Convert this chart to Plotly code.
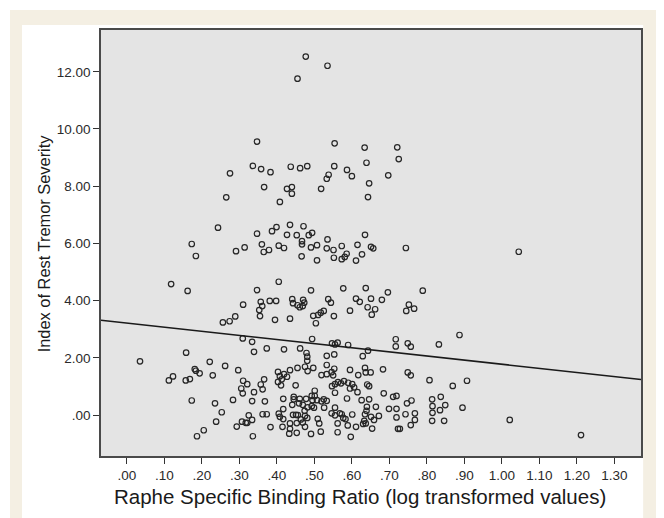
import plotly.graph_objects as go

# ---------------- data ----------------
x_tick_vals = [0.0, 0.1, 0.2, 0.3, 0.4, 0.5, 0.6, 0.7, 0.8, 0.9, 1.0, 1.1, 1.2, 1.3]
x_tick_text = [".00", ".10", ".20", ".30", ".40", ".50", ".60", ".70", ".80", ".90",
               "1.00", "1.10", "1.20", "1.30"]
y_tick_vals = [0, 2, 4, 6, 8, 10, 12]
y_tick_text = [".00", "2.00", "4.00", "6.00", "8.00", "10.00", "12.00"]

# fit line: y = intercept + slope * x
fit_intercept = 3.216
fit_slope = -1.44

# points with index > 7.8
high_x = [0.477, 0.535, 0.455, 0.347, 0.554, 0.634, 0.721, 0.725, 0.336, 0.358, 0.383, 0.437,
          0.462, 0.481, 0.553, 0.639, 0.538, 0.533, 0.587, 0.600, 0.697, 0.275, 0.366, 0.427,
          0.440, 0.518, 0.646]
high_y = [12.53, 12.21, 11.76, 9.56, 9.50, 9.35, 9.36, 8.95, 8.71, 8.60, 8.49, 8.68,
          8.63, 8.70, 8.70, 8.82, 8.40, 8.26, 8.57, 8.35, 8.38, 8.45, 7.97, 7.91,
          7.97, 7.91, 8.10]

# points with index between 4 and 7.8
mid_x = [0.265, 0.408, 0.440, 0.643, 0.243, 0.173, 0.184, 0.291, 0.314, 0.347, 0.360, 0.365,
         0.379, 0.387, 0.399, 0.427, 0.435, 0.453, 0.471, 0.485, 0.494, 0.405, 0.419, 0.467,
         0.467, 0.466, 0.491, 0.507, 0.507, 0.535, 0.533, 0.551, 0.552, 0.573, 0.573, 0.586,
         0.581, 0.615, 0.611, 0.627, 0.635, 0.651, 0.657, 0.744, 0.405, 0.162, 0.347, 0.491,
         0.577, 0.637, 0.696, 0.789, 0.441, 0.470, 0.537, 0.611, 0.651, 0.680, 0.118, 1.045]
mid_y = [7.61, 7.45, 7.74, 7.62, 6.55, 5.98, 5.56, 5.73, 5.86, 6.34, 5.97, 5.70,
         5.77, 6.43, 6.57, 6.30, 6.65, 6.29, 6.60, 6.29, 6.37, 5.92, 5.84, 6.08,
         5.97, 5.55, 5.86, 5.94, 5.41, 6.14, 5.83, 5.77, 5.50, 5.91, 5.45, 5.64,
         5.53, 5.95, 5.40, 5.62, 6.30, 5.88, 5.83, 5.84, 4.66, 4.34, 4.37, 4.36,
         4.43, 4.44, 4.29, 4.35, 4.05, 4.03, 4.05, 4.07, 4.07, 4.03, 4.58, 5.71]

# low points, x < .28
low_a = [(0.256, 3.24), (0.274, 3.28), (0.158, 2.18), (0.035, 1.88), (0.221, 1.86), (0.262, 1.72),
         (0.181, 1.61), (0.184, 1.55), (0.194, 1.46), (0.229, 1.39), (0.123, 1.35), (0.112, 1.21),
         (0.157, 1.21), (0.168, 1.26), (0.173, 0.51), (0.235, 0.41), (0.253, 0.10), (0.238, -0.23),
         (0.205, -0.53), (0.187, -0.74)]

# low points, .28 <= x < .54
low_b = [(0.310, 3.86), (0.357, 3.96), (0.361, 3.81), (0.381, 3.99), (0.398, 3.99), (0.353, 3.67),
         (0.289, 3.45), (0.355, 3.46), (0.395, 3.33), (0.435, 3.37), (0.443, 3.91), (0.455, 3.84),
         (0.461, 3.77), (0.469, 3.81), (0.473, 3.93), (0.497, 3.47), (0.504, 3.21), (0.510, 3.50),
         (0.517, 3.58), (0.525, 3.64), (0.309, 2.68), (0.334, 2.56), (0.339, 2.21), (0.373, 2.33),
         (0.419, 2.30), (0.462, 2.33), (0.494, 2.66), (0.479, 2.17), (0.481, 2.04), (0.481, 1.90),
         (0.533, 2.07), (0.297, 1.57), (0.403, 1.51), (0.419, 1.43), (0.435, 1.57), (0.455, 1.65),
         (0.475, 1.69), (0.482, 1.54), (0.497, 1.65), (0.519, 1.40), (0.533, 1.75), (0.533, 1.43),
         (0.408, 1.36), (0.403, 1.16), (0.413, 1.25), (0.427, 1.34), (0.411, 1.04), (0.450, 1.04),
         (0.310, 1.20), (0.321, 1.08), (0.366, 1.25), (0.357, 1.07), (0.362, 0.90), (0.305, 0.93),
         (0.309, 0.76), (0.339, 0.80), (0.283, 0.53), (0.334, 0.49), (0.368, 0.48), (0.417, 0.57),
         (0.445, 0.64), (0.445, 0.55), (0.461, 0.57), (0.478, 0.57), (0.493, 0.67), (0.501, 0.85),
         (0.507, 0.52), (0.495, 0.52), (0.519, 0.48), (0.525, 0.55), (0.533, 0.50), (0.501, 0.67),
         (0.417, 0.21), (0.441, 0.36), (0.459, 0.41), (0.469, 0.36), (0.482, 0.27), (0.474, 0.15),
         (0.493, 0.31), (0.499, 0.26), (0.526, 0.26), (0.362, 0.03), (0.373, 0.03), (0.405, 0.05),
         (0.408, -0.06), (0.417, -0.14), (0.325, -0.01), (0.443, 0.01), (0.451, 0.01), (0.456, 0.00),
         (0.475, -0.03), (0.464, -0.15), (0.481, -0.10), (0.509, -0.13), (0.513, -0.29), (0.307, -0.23),
         (0.317, -0.27), (0.321, -0.27), (0.334, -0.17), (0.293, -0.40), (0.383, -0.42), (0.415, -0.41),
         (0.435, -0.29), (0.453, -0.28), (0.469, -0.26), (0.475, -0.41), (0.435, -0.48), (0.433, -0.65),
         (0.453, -0.62), (0.491, -0.66), (0.517, -0.58), (0.336, -0.74)]

# low points, .54 <= x < .81
low_c = [(0.544, 3.93), (0.552, 3.46), (0.595, 3.65), (0.621, 3.96), (0.642, 3.77), (0.662, 3.70),
         (0.653, 3.51), (0.752, 3.86), (0.745, 3.64), (0.766, 3.72), (0.547, 2.51), (0.562, 2.53),
         (0.555, 2.47), (0.590, 2.45), (0.643, 2.25), (0.629, 2.06), (0.717, 2.65), (0.717, 2.40),
         (0.749, 2.51), (0.757, 2.39), (0.553, 2.12), (0.553, 1.62), (0.546, 1.50), (0.550, 1.39),
         (0.595, 1.58), (0.617, 1.40), (0.635, 1.65), (0.637, 1.49), (0.650, 1.49), (0.683, 1.60),
         (0.749, 1.49), (0.757, 1.39), (0.807, 1.22), (0.563, 1.15), (0.579, 1.19), (0.571, 1.11),
         (0.555, 1.08), (0.590, 1.13), (0.601, 1.08), (0.606, 0.97), (0.595, 0.93), (0.547, 1.01),
         (0.555, 0.78), (0.615, 0.80), (0.641, 1.07), (0.646, 1.01), (0.685, 0.76), (0.710, 0.64),
         (0.719, 0.67), (0.587, 0.58), (0.626, 0.52), (0.646, 0.55), (0.640, 0.29), (0.664, 0.29),
         (0.699, 0.22), (0.719, 0.22), (0.747, 0.41), (0.759, 0.51), (0.555, 0.26), (0.768, 0.06),
         (0.768, -0.17), (0.757, -0.35), (0.743, 0.03), (0.719, -0.08), (0.546, 0.06), (0.555, -0.01),
         (0.568, 0.06), (0.573, 0.03), (0.601, 0.02), (0.635, 0.03), (0.639, 0.15), (0.651, -0.06),
         (0.672, -0.03), (0.577, -0.10), (0.583, -0.14), (0.659, -0.17), (0.633, -0.20), (0.637, -0.29),
         (0.562, -0.29), (0.589, -0.36), (0.611, -0.41), (0.630, -0.31), (0.654, -0.47), (0.723, -0.48),
         (0.728, -0.48), (0.562, -0.60), (0.597, -0.76)]

# low points, x >= .81
low_d = [(0.887, 2.80), (0.832, 2.47), (0.869, 1.02), (0.907, 1.20), (0.837, 0.64), (0.814, 0.55),
         (0.815, 0.31), (0.849, 0.35), (0.835, 0.17), (0.815, 0.08), (0.895, 0.26), (0.814, -0.20),
         (0.846, -0.20), (1.021, -0.17), (1.211, -0.70)]

x_range = [-0.069, 1.371]
y_range = [-1.43, 13.46]

# ---------------- figure ----------------
xs = list(high_x) + list(mid_x)
ys = list(high_y) + list(mid_y)
for grp in (low_a, low_b, low_c, low_d):
    xs += [p[0] for p in grp]
    ys += [p[1] for p in grp]

fig = go.Figure()
fig.add_trace(go.Scatter(
    x=xs, y=ys, mode="markers",
    marker=dict(symbol="circle-open", size=5.5, color="#262626", line=dict(width=1.2, color="#262626")),
    hoverinfo="x+y", showlegend=False))

fig.add_trace(go.Scatter(
    x=x_range, y=[fit_intercept + fit_slope * v for v in x_range],
    mode="lines", line=dict(color="#1a1a1a", width=1.6), showlegend=False, hoverinfo="skip"))

font_family = "Liberation Sans, Arial, sans-serif"

# the page body adds an 8px margin, so the figure is 8px smaller than the window
fig.update_layout(
    width=656, height=510,
    margin=dict(l=93, r=23, t=22, b=62),
    paper_bgcolor="white",
    plot_bgcolor="#e4e4e4",
    font=dict(family=font_family, color="#1a1a1a", size=13),
    shapes=[
        dict(type="rect", xref="paper", yref="paper", x0=-0.1685, x1=1.03, y0=-0.2, y1=1.047,
             fillcolor="#f4efe3", line=dict(width=0), layer="below"),
        dict(type="rect", xref="paper", yref="paper", x0=-0.1463, x1=1.004, y0=-0.2, y1=1.0117,
             fillcolor="white", line=dict(width=0), layer="below"),
        dict(type="rect", xref="paper", yref="paper", x0=0, x1=1, y0=0, y1=1,
             fillcolor="#e4e4e4", line=dict(width=0), layer="below"),
    ],
    annotations=[
        dict(text="Raphe Specific Binding Ratio (log transformed values)", xref="paper", yref="paper",
             x=0.479, y=-0.096, xanchor="center", yanchor="middle", showarrow=False,
             font=dict(size=20.5, family=font_family, color="#1a1a1a")),
        dict(text="Index of Rest Tremor Severity", xref="paper", yref="paper",
             x=-0.105, y=0.5, xanchor="center", yanchor="middle", textangle=-90, showarrow=False,
             font=dict(size=16.4, family=font_family, color="#1a1a1a")),
    ],
)

fig.update_xaxes(range=x_range, tickmode="array", tickvals=x_tick_vals, ticktext=x_tick_text,
                 ticks="outside", ticklen=6, tickwidth=1, tickcolor="#333",
                 showgrid=False, zeroline=False, showline=True, linecolor="#4a4a4a", linewidth=1.5,
                 mirror=True, tickfont=dict(size=13.5, family=font_family, color="#2a2a2a"))
fig.update_yaxes(range=y_range, tickmode="array", tickvals=y_tick_vals, ticktext=y_tick_text,
                 ticks="outside", ticklen=6, tickwidth=1, tickcolor="#333",
                 showgrid=False, zeroline=False, showline=True, linecolor="#4a4a4a", linewidth=1.5,
                 mirror=True, tickfont=dict(size=13.5, family=font_family, color="#2a2a2a"))

fig.write_html("out.html")
